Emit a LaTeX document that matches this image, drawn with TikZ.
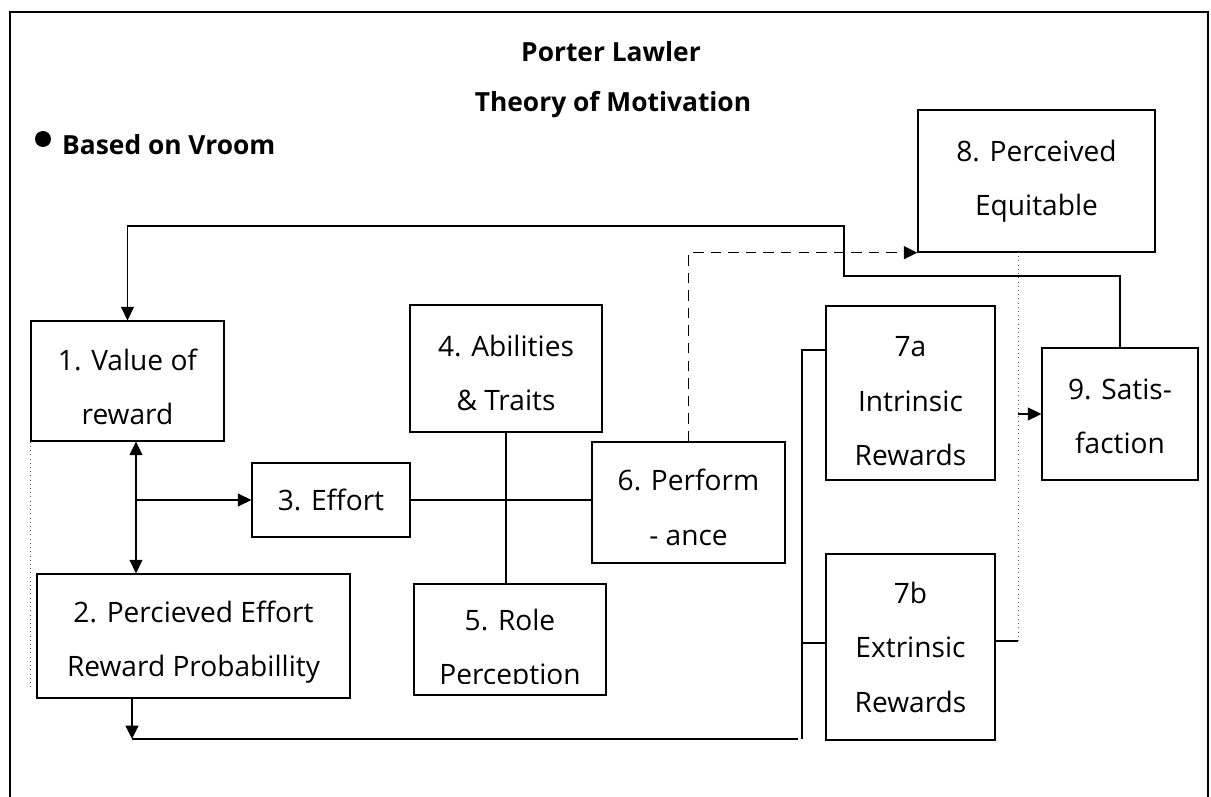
\documentclass[tikz,border=0pt]{standalone}
\usepackage{fontspec}
\setmainfont{Open Sans}
\usetikzlibrary{arrows.meta}
\tikzset{
  pbox/.style n args={2}{draw, line width=0.75pt, align=center, inner sep=0pt,
    minimum width=#1*0.02cm, minimum height=#2*0.02cm,
    font=\fontsize{16}{31}\selectfont},
  conn/.style={line width=0.75pt},
  arr/.style={-{Triangle[length=0.27cm,width=0.26cm]}},
  headfont/.style={font=\bfseries\fontsize{15}{18}\selectfont}
}
\newcommand{\lift}[1]{\rule{0pt}{#1pt}}
\begin{document}
\begin{tikzpicture}[x=0.02cm,y=-0.02cm]
  \useasboundingbox (0,0) rectangle (1211,797);
  \fill[white] (0,0) rectangle (1211,797);
  \draw[line width=1pt] (10,797) -- (10,12) -- (1208,12) -- (1208,797);
  % heading
  \node[headfont] (ttl1) at (611,52) {Porter Lawler};
  \node[headfont] (ttl2) at (613,105) {Theory of Motivation};
  \node[circle,fill,inner sep=0pt,minimum size=16*0.02cm] (dot) at (43,139) {};
  \node[headfont,anchor=west] (vroom) at (56,145) {Based on Vroom};
  % boxes
  \node[pbox={193}{120}] (b1) at (127.5,381) {\lift{19}1. Value of\\reward};
  \node[pbox={313}{124}] (b2) at (193.5,636) {\lift{19}2. Percieved Effort\\Reward Probabillity};
  \node[pbox={158}{74}] (b3) at (331,500) {3. Effort};
  \node[pbox={192}{127}] (b4) at (506,368.5) {\lift{17}4. Abilities\\\& Traits};
  \node[pbox={192}{111}] (b5) at (510,639.5) {};
  \begin{scope}
    \clip (414,584) rectangle (606,683);
    \node[font=\fontsize{16}{31}\selectfont,align=center] (b5txt) at (510,650) {5. Role\\Perception};
  \end{scope}
  \node[pbox={193}{121}] (b6) at (688.5,502.5) {\lift{18}6. Perform\\- ance};
  \node[pbox={169}{174}] (b7a) at (910.5,393) {\lift{21}7a\\Intrinsic\\Rewards};
  \node[pbox={169}{186}] (b7b) at (910.5,647) {7b\\Extrinsic\\Rewards};
  \node[pbox={237}{142}] (b8) at (1036.5,181) {8. Perceived\\Equitable};
  \node[pbox={156}{132}] (b9) at (1120,414) {\lift{14.5}9. Satis-\\faction};
  % connectors
  \coordinate (vx) at (136,0);
  \draw[conn,{Triangle[length=0.27cm,width=0.26cm]}-{Triangle[length=0.27cm,width=0.26cm]}]
    (b1.south -| vx) -- (b2.north -| vx);
  \draw[conn,arr] (vx |- b3.west) -- (b3.west);
  \draw[conn] (b3.east) -- (b3.east -| b6.west);
  \draw[conn] (b4.south) -- (b4.south |- b5.north);
  \draw[conn,arr] (b9.north) |- (844,276) -- (844,226) -| (b1.north);
  \draw[conn,dash pattern=on 6pt off 4pt,arr] (b6.north) |- (b8.south west);
  \draw[gray!70!black,dotted,line width=0.4pt] (b1.south west) -- (b1.south west |- 0,687);
  % loop back to 2
  \coordinate (loopL) at (132,739);
  \coordinate (loopR) at (798,739);
  \draw[conn,arr] (b2.south -| loopL) -- (loopL);
  \draw[conn] (loopL) -- (loopR);
  \draw[conn] (b7a.west |- 0,350) -- (802,350) -- (802,739);
  \draw[conn] (b7b.west |- 0,643) -- (802,643);
  % rewards to satisfaction
  \coordinate (eqTop) at (1018,252);
  \coordinate (eqBot) at (1018,641);
  \draw[gray!70!black,dotted,line width=0.4pt] (eqTop) -- (eqBot);
  \draw[conn] (b7b.east |- eqBot) -- (eqBot);
  \draw[conn,arr] (eqTop |- b9.west) -- (b9.west);
\end{tikzpicture}
\end{document}
